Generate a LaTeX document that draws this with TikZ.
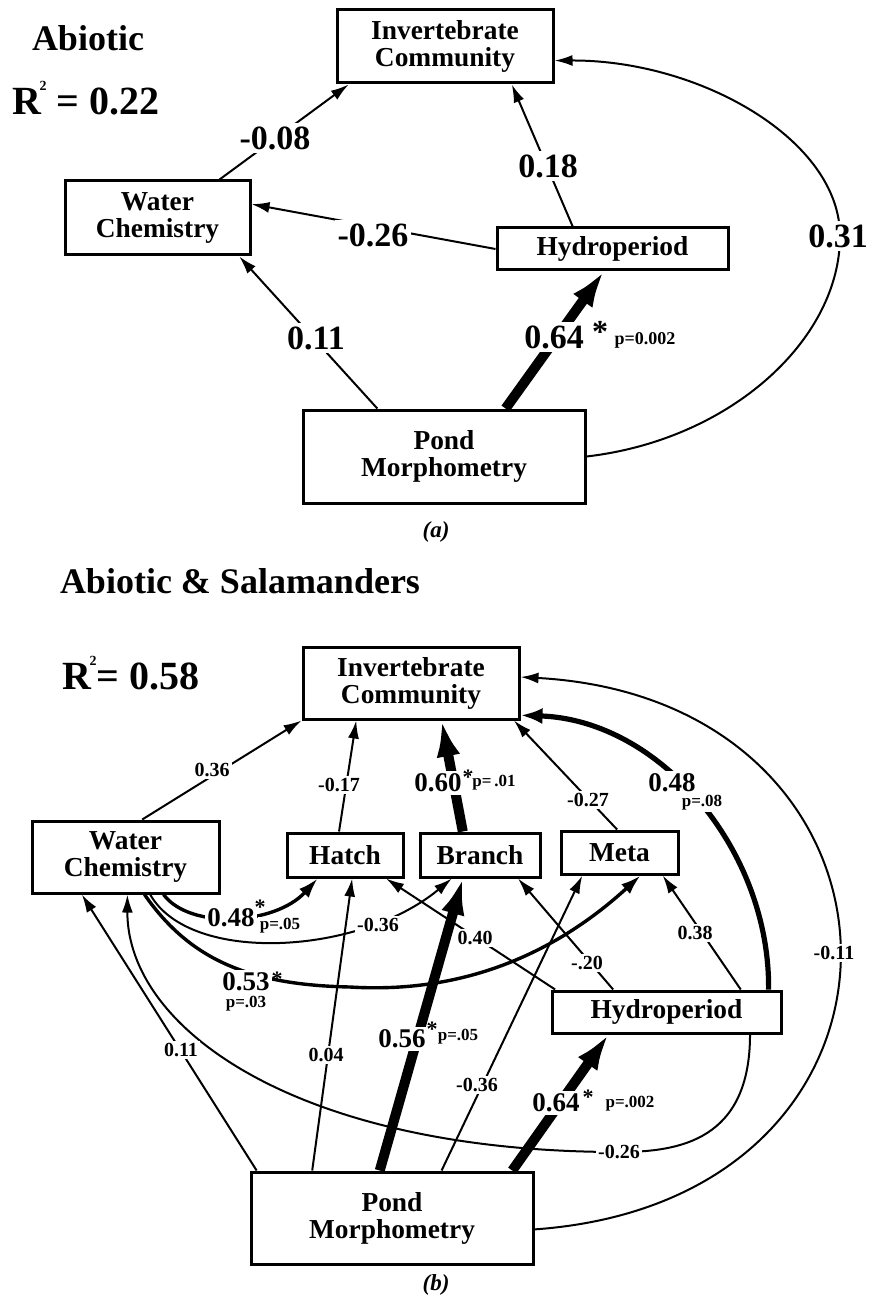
\documentclass[tikz,border=0pt]{standalone}
\usepackage{fontspec}
\setmainfont{Liberation Serif}
\usetikzlibrary{arrows.meta,calc}
\begin{document}
\begin{tikzpicture}[x=0.5pt,y=-0.5pt,
 box/.style={draw,line width=1.5pt,rectangle,align=center,inner sep=0pt,font=\bfseries\fontsize{13.7}{13.5}\selectfont},
 ln/.style={line width=1pt,-{Latex[length=9pt,width=5.5pt]}},
 lnmed/.style={line width=1.7pt,-{Latex[length=10pt,width=6.5pt]}},
 lnmedb/.style={line width=2.6pt,-{Latex[length=11pt,width=8pt]}},
 lnthick/.style={line width=5pt,-{Latex[length=18pt,width=12pt]}},
 ttl/.style={font=\bfseries\fontsize{18}{18}\selectfont,inner sep=0pt},
 rsq/.style={font=\bfseries\fontsize{20}{20}\selectfont,inner sep=0pt},
 laba/.style={fill=white,inner sep=1.5pt,font=\bfseries\fontsize{17}{17}\selectfont},
 stara/.style={inner sep=0pt,font=\bfseries\fontsize{16}{16}\selectfont},
 pa/.style={inner sep=0pt,font=\bfseries\fontsize{9}{9}\selectfont},
 labs/.style={fill=white,inner sep=1.2pt,font=\bfseries\fontsize{10}{10}\selectfont},
 labb/.style={fill=white,inner sep=1.2pt,font=\bfseries\fontsize{13.5}{13.5}\selectfont},
 starb/.style={inner sep=0pt,font=\bfseries\fontsize{11}{11}\selectfont},
 pb/.style={fill=white,inner sep=0.8pt,font=\bfseries\fontsize{8.5}{8.5}\selectfont},
 capt/.style={font=\bfseries\itshape\fontsize{11.5}{11.5}\selectfont}
]
\useasboundingbox (0,0) rectangle (872,1299);

% ---------- panel (a) ----------
\node[ttl] (t1) at (88,38) {Abiotic};
\node[rsq] (r1) at (86,98) {R\kern-1pt\raisebox{0.6em}{\fontsize{7}{7}\selectfont 2} = 0.22};

\node[box,minimum width=108pt,minimum height=36.5pt] (ica) at (445,46.5) {Invertebrate\\Community};
\node[box,minimum width=92.5pt,minimum height=37pt] (wca) at (157.5,218) {Water\\Chemistry};
\node[box,minimum width=115.5pt,minimum height=21pt] (hya) at (612.5,249) {Hydroperiod};
\node[box,minimum width=141pt,minimum height=46.5pt] (pma) at (444,456.5) {Pond\\Morphometry};

\draw[ln] ($(wca.north west)!0.83!(wca.north east)$) -- ($(ica.south west)!0.06!(ica.south east)$);
\draw[ln] (hya.west) -- ($(wca.north east)!0.32!(wca.south east)$);
\draw[ln] ($(hya.north west)!0.33!(hya.north east)$) -- ($(ica.south west)!0.805!(ica.south east)$);
\draw[ln] ($(pma.north west)!0.266!(pma.north east)$) -- ($(wca.south west)!0.935!(wca.south east)$);
\draw[lnthick] ($(pma.north west)!0.716!(pma.north east)$) -- ($(hya.south west)!0.463!(hya.south east)$);
\draw[ln] (pma.east) .. controls (730,440) and (840,340) .. (840,236) .. controls (840,140) and (700,60) .. ($(ica.north east)!0.685!(ica.south east)$);

\node[laba] (la1) at (275,138) {-0.08};
\node[laba] (la2) at (373,235) {-0.26};
\node[laba] (la3) at (548,166) {0.18};
\node[laba] (la4) at (316,338) {0.11};
\node[laba] (la5) at (554,337) {0.64};
\node[stara] (la5s) at (600,332) {*};
\node[pa] (la5p) at (645,340) {p=0.002};
\node[laba] (la6) at (838,236) {0.31};

\node[capt] (ca) at (436,532) {(a)};

% ---------- panel (b) ----------
\node[ttl] (t2) at (240,581) {Abiotic \& Salamanders};
\node[rsq] (r2) at (131,673) {R\kern-1pt\raisebox{0.6em}{\fontsize{7}{7}\selectfont 2}= 0.58};

\node[box,minimum width=108pt,minimum height=36pt] (icb) at (411,683) {Invertebrate\\Community};
\node[box,minimum width=93.5pt,minimum height=36pt] (wcb) at (125.5,857) {Water\\Chemistry};
\node[box,minimum width=58pt,minimum height=22pt] (hat) at (345,855) {Hatch};
\node[box,minimum width=60pt,minimum height=22pt] (bra) at (480,855) {Branch};
\node[box,minimum width=58.5pt,minimum height=21.5pt] (met) at (619.5,852.5) {Meta};
\node[box,minimum width=114.5pt,minimum height=21pt] (hyb) at (666.5,1012) {Hydroperiod};
\node[box,minimum width=141pt,minimum height=46pt] (pmb) at (392,1218) {Pond\\Morphometry};

\draw[ln] ($(wcb.north west)!0.588!(wcb.north east)$) -- (icb.south west);
\draw[ln] ($(hat.north west)!0.45!(hat.north east)$) -- ($(icb.south west)!0.25!(icb.south east)$);
\draw[lnthick] ($(bra.north west)!0.36!(bra.north east)$) -- ($(icb.south west)!0.64!(icb.south east)$);
\draw[ln] ($(met.north west)!0.48!(met.north east)$) -- ($(icb.south west)!0.97!(icb.south east)$);
\draw[lnmedb] ($(hyb.north west)!0.94!(hyb.north east)$) .. controls (770,850) and (660,720) .. ($(icb.north east)!0.93!(icb.south east)$);
\draw[ln] ($(pmb.north east)!0.62!(pmb.south east)$) .. controls (950,1200) and (935,700) .. ($(icb.north east)!0.42!(icb.south east)$);
\draw[ln] ($(hyb.south west)!0.86!(hyb.south east)$) .. controls (750,1140) and (680,1152) .. (619,1152) .. controls (300,1152) and (127,1030) .. ($(wcb.south west)!0.51!(wcb.south east)$);
\draw[ln] ($(pmb.north west)!0.025!(pmb.north east)$) -- ($(wcb.south west)!0.27!(wcb.south east)$);
\draw[ln] ($(pmb.north west)!0.22!(pmb.north east)$) -- ($(hat.south west)!0.56!(hat.south east)$);
\draw[lnthick] ($(pmb.north west)!0.457!(pmb.north east)$) -- ($(bra.south west)!0.36!(bra.south east)$);
\draw[ln] ($(pmb.north west)!0.674!(pmb.north east)$) -- ($(met.south west)!0.19!(met.south east)$);
\draw[lnthick] ($(pmb.north west)!0.922!(pmb.north east)$) -- ($(hyb.south west)!0.25!(hyb.south east)$);
\draw[ln] ($(hyb.north west)!0.27!(hyb.north east)$) -- ($(bra.south west)!0.81!(bra.south east)$);
\draw[ln] ($(hyb.north west)!0.02!(hyb.north east)$) -- ($(hat.south west)!0.845!(hat.south east)$);
\draw[ln] ($(hyb.north west)!0.82!(hyb.north east)$) -- ($(met.south west)!0.86!(met.south east)$);
\draw[lnmed] ($(wcb.south west)!0.70!(wcb.south east)$) .. controls (190,930) and (275,925) .. ($(hat.south west)!0.27!(hat.south east)$);
\draw[ln] ($(wcb.south west)!0.63!(wcb.south east)$) .. controls (190,965) and (360,955) .. ($(bra.south west)!0.27!(bra.south east)$);
\draw[lnmed] ($(wcb.south west)!0.60!(wcb.south east)$) .. controls (190,960) and (250,985) .. (350,987) .. controls (480,995) and (570,940) .. ($(met.south west)!0.675!(met.south east)$);

% small labels
\node[labs] (lb1) at (212,770) {0.36};
\node[labs] (lb2) at (339,785) {-0.17};
\node[labs] (lb3) at (588,800) {-0.27};
\node[labs] (lb4) at (475,938) {0.40};
\node[labs] (lb5) at (378,925) {-0.36};
\node[labs] (lb6) at (587,963) {-.20};
\node[labs] (lb7) at (695,933) {0.38};
\node[labs] (lb8) at (834,953) {-0.11};
\node[labs] (lb9) at (181,1050) {0.11};
\node[labs] (lb10) at (326,1055) {0.04};
\node[labs] (lb11) at (477,1085) {-0.36};
\node[labs] (lb12) at (619,1152) {-0.26};
% big labels
\node[labb] (bb1) at (438,783) {0.60};
\node[starb] (sb1) at (468,777) {*};
\node[pb] (pb1) at (494,783) {p=\,.01};
\node[labb] (bb2) at (672,783) {0.48};
\node[pb] (pb2) at (702,803) {p=.08};
\node[labb] (bb3) at (231,918) {0.48};
\node[starb] (sb3) at (260,907) {*};
\node[pb] (pb3) at (280,926) {p=.05};
\node[labb] (bb4) at (246,982) {0.53};
\node[starb] (sb4) at (277,979) {*};
\node[pb] (pb4) at (246,1004) {p=.03};
\node[labb] (bb5) at (402,1039) {0.56};
\node[starb] (sb5) at (432,1029) {*};
\node[pb] (pb5) at (458,1037) {p=.05};
\node[labb] (bb6) at (556,1103) {0.64};
\node[starb] (sb6) at (588,1097) {*};
\node[pb] (pb6) at (630,1104) {p=.002};

\node[capt] (cb) at (436,1285) {(b)};
\end{tikzpicture}
\end{document}
